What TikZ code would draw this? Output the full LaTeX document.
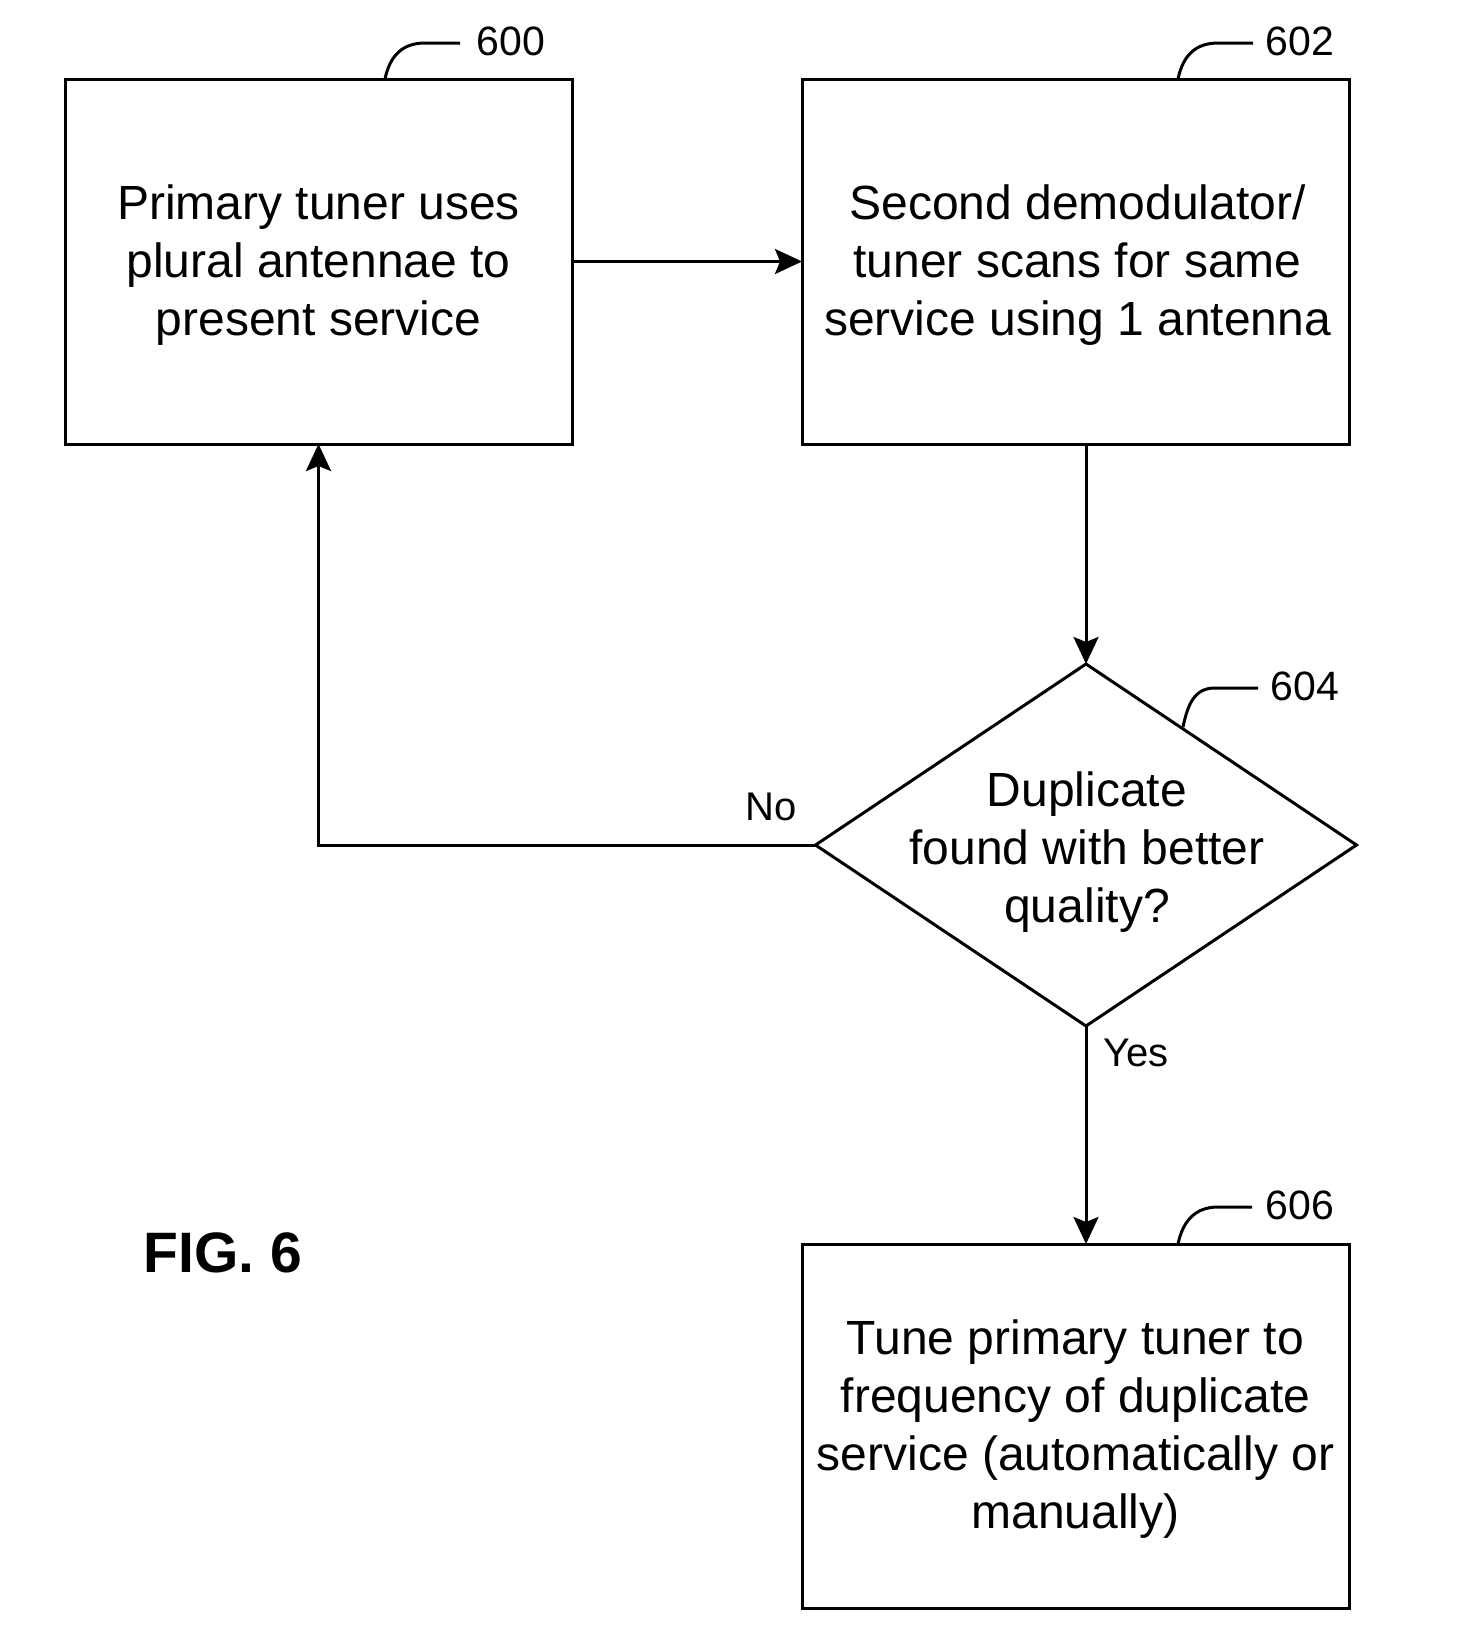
\documentclass[tikz,border=0pt]{standalone}
\usepackage{fontspec}
\setmainfont{Liberation Sans}
\usetikzlibrary{shapes.geometric,arrows.meta}
\begin{document}
\begin{tikzpicture}[x=1pt,y=-1pt,
 box/.style={draw, line width=3pt, rectangle, inner sep=0pt, outer sep=0pt},
 boxtext/.style={align=center, inner sep=0pt, font=\fontsize{48}{58}\selectfont},
 conn/.style={line width=3pt, -{Stealth[length=27pt,width=25pt,inset=5pt]}},
 lead/.style={line width=3pt},
 refnum/.style={font=\fontsize{41}{48}\selectfont, inner sep=0pt},
 lab/.style={font=\fontsize{40}{48}\selectfont, inner sep=0pt}]
\useasboundingbox (0,0) rectangle (1468,1650);
% boxes
\node[box, minimum width=507pt, minimum height=365pt] (b600) at (318.5,261.5) {};
\node[boxtext] (t600) at (318.5,265.5) {Primary tuner uses\\plural antennae to\\present service};
\node[box, minimum width=547pt, minimum height=365pt] (b602) at (1075.5,261.5) {};
\node[boxtext] (t602) at (1077.5,265.5) {Second demodulator/\\tuner scans for same\\service using 1 antenna};
\node[box, minimum width=547pt, minimum height=364pt] (b606) at (1075.5,1426) {};
\node[boxtext] (t606) at (1075.5,1429) {Tune primary tuner to\\frequency of duplicate\\service (automatically or\\manually)};
\node[diamond, draw, line width=3pt, minimum width=541pt, minimum height=362pt, inner sep=0pt, outer sep=0pt] (d) at (1086,845) {};
\node[boxtext] (dt) at (1087,852) {Duplicate\\found with better\\quality?};
% connectors
\draw[conn] (b600.east) -- (b602.west);
\draw[conn] (b602.south -| d.north) -- (d.north);
\draw[conn] (d.west) -| (b600.south);
\draw[conn] (d.south) -- (d.south |- b606.north);
\node[lab] (no) at (771,807) {No};
\node[lab] (yes) at (1136,1053) {Yes};
% reference numerals and leaders
\coordinate (l600) at (385,79);
\coordinate (l602) at (1178,79);
\coordinate (l604) at (1183,727);
\coordinate (l606) at (1178,1244);
\draw[lead] (l600) .. controls +(5,-24) and +(-22,0) .. ++(40,-36) -- ++(35,0) coordinate (e600);
\draw[lead] (l602) .. controls +(5,-24) and +(-22,0) .. ++(40,-36) -- ++(35,0) coordinate (e602);
\draw[lead] (l604) .. controls +(5,-24) and +(-20,0) .. ++(32,-39) -- ++(43,0) coordinate (e604);
\draw[lead] (l606) .. controls +(5,-24) and +(-22,0) .. ++(40,-37) -- ++(34,0) coordinate (e606);
\node[refnum] (n600) at (511,41) {600};
\node[refnum] (n602) at (1300,41) {602};
\node[refnum] (n604) at (1305,686) {604};
\node[refnum] (n606) at (1300,1205) {606};
\node[font=\fontsize{57}{60}\selectfont\bfseries, inner sep=0pt] (fig) at (223,1253) {FIG. 6};
\end{tikzpicture}
\end{document}
